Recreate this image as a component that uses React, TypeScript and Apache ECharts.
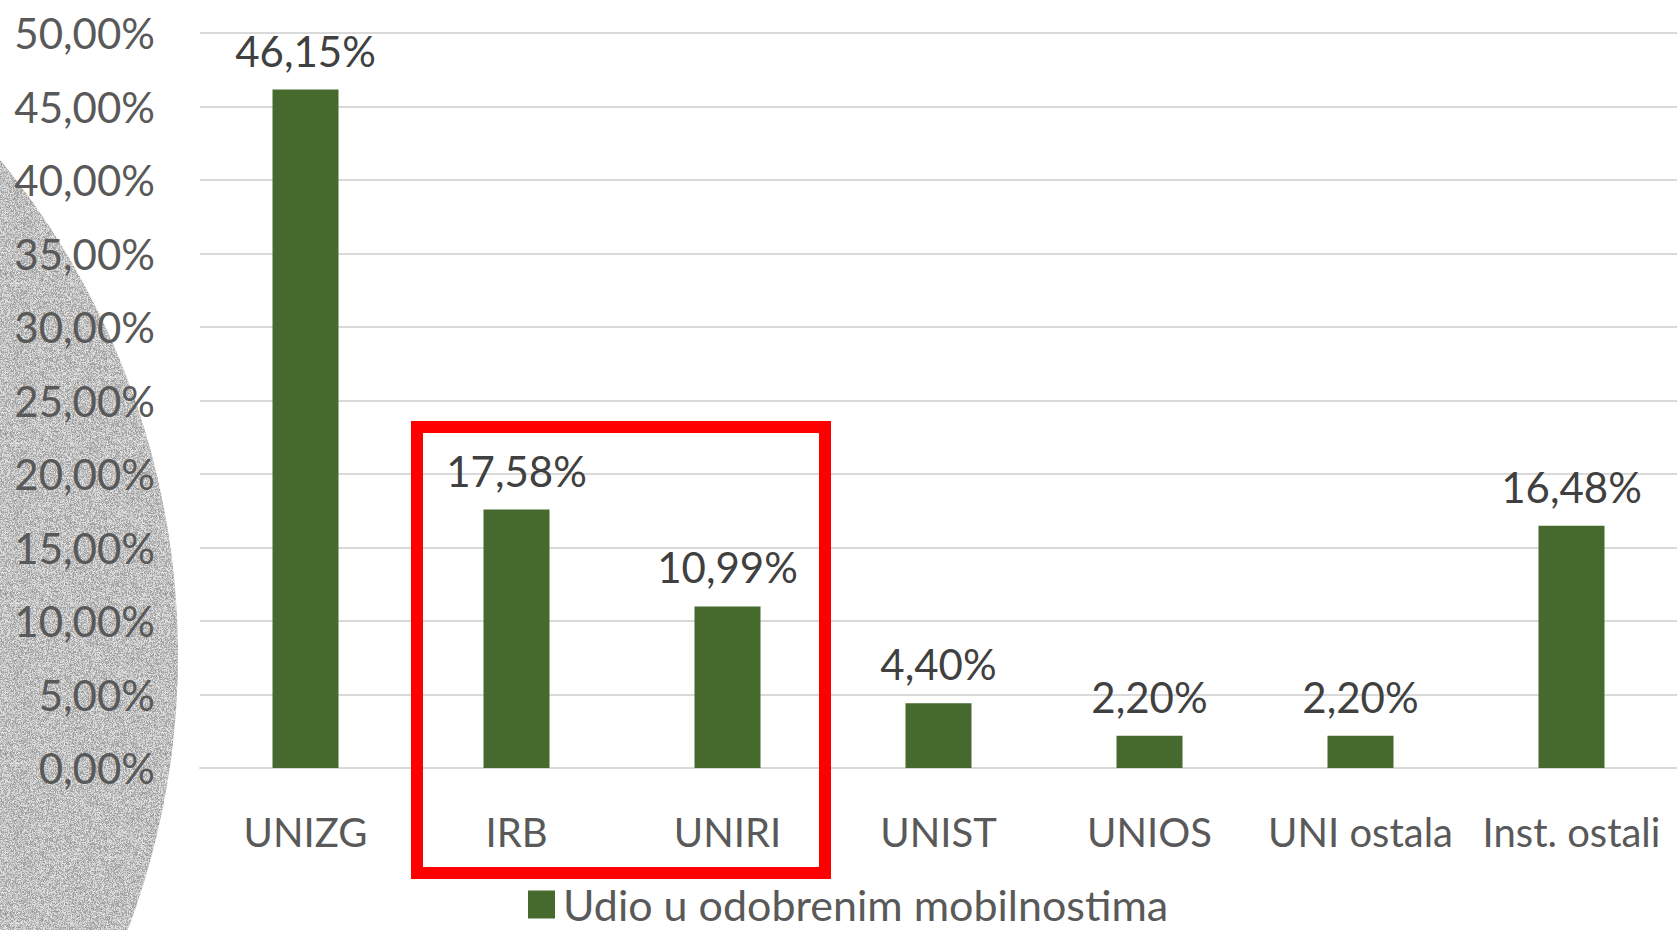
import React, { useEffect, useRef } from "react";
import * as echarts from "echarts";

const categories = ["UNIZG", "IRB", "UNIRI", "UNIST", "UNIOS", "UNI ostala", "Inst. ostali"];
const shares = [46.15, 17.58, 10.99, 4.4, 2.2, 2.2, 16.48];
const seriesName = "Udio u odobrenim mobilnostima";
const yMin = 0;
const yMax = 50;
const yStep = 5;

const FONT = "Lato";
const fmt = (v: number) => v.toFixed(2).replace(".", ",") + "%";

function makeNoise(): HTMLCanvasElement {
  const c = document.createElement("canvas");
  c.width = 160;
  c.height = 160;
  const ctx = c.getContext("2d")!;
  const img = ctx.createImageData(160, 160);
  let s = 12345;
  for (let i = 0; i < 160 * 160; i++) {
    s = (s * 1103515245 + 12345) & 0x7fffffff;
    const n = (s >> 8) % 80;
    const g = 152 + n;
    img.data[i * 4] = g;
    img.data[i * 4 + 1] = g;
    img.data[i * 4 + 2] = g;
    img.data[i * 4 + 3] = 255;
  }
  ctx.putImageData(img, 0, 0);
  return c;
}

export default function App() {
  const ref = useRef<HTMLDivElement>(null);
  useEffect(() => {
    if (!ref.current) return;
    const chart = echarts.init(ref.current, null, { renderer: "svg" });
    const noise = makeNoise();
    chart.setOption({
      animation: false,
      backgroundColor: "#ffffff",
      graphic: [
        {
          type: "circle",
          z: -10,
          silent: true,
          shape: { cx: -600, cy: 655, r: 778 },
          style: { fill: { image: noise, repeat: "repeat" } as any },
        },
        {
          type: "rect",
          z: 100,
          silent: true,
          shape: { x: 417, y: 427, width: 408, height: 446 },
          style: { fill: "none", stroke: "#ff0000", lineWidth: 12 },
        },
      ],
      grid: { left: 200, right: 0, top: 33, bottom: 162, containLabel: false },
      legend: {
        data: [seriesName],
        left: 523,
        top: 878,
        itemWidth: 27,
        itemHeight: 28,
        icon: "rect",
        textStyle: { fontFamily: FONT, fontSize: 43, color: "#595959", padding: [0, 0, 0, 3] },
      },
      xAxis: {
        type: "category",
        data: categories,
        axisLine: { show: true, lineStyle: { color: "#d9d9d9", width: 2 } },
        axisTick: { show: false },
        axisLabel: { fontFamily: FONT, fontSize: 40, color: "#595959", margin: 44, interval: 0 },
      },
      yAxis: {
        type: "value",
        min: yMin,
        max: yMax,
        interval: yStep,
        axisLine: { show: false },
        axisTick: { show: false },
        splitLine: { lineStyle: { color: "#d9d9d9", width: 2 } },
        axisLabel: { fontFamily: FONT, fontSize: 42, color: "#595959", margin: 45, formatter: (v: number) => fmt(v) },
      },
      series: [
        {
          name: seriesName,
          type: "bar",
          data: shares,
          barWidth: 66,
          itemStyle: { color: "#466a2e" },
          label: {
            show: true,
            position: "top",
            distance: 18,
            fontFamily: FONT,
            fontSize: 42,
            color: "#404040",
            formatter: (p: any) => fmt(p.value),
          },
        },
      ],
    });
    return () => chart.dispose();
  }, []);
  return (
    <div
      ref={ref}
      style={{ position: "absolute", left: 0, top: 0, width: 1677, height: 930, background: "#fff" }}
    />
  );
}
